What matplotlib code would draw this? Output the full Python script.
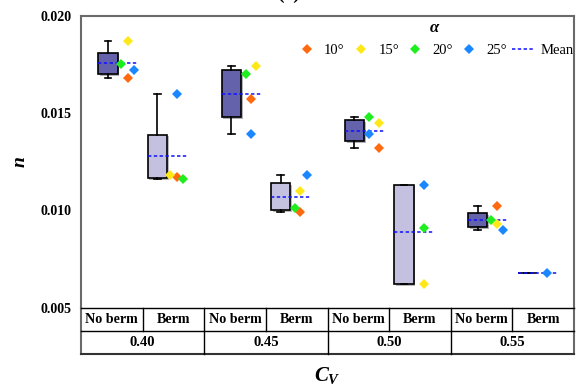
import numpy as np
import matplotlib
matplotlib.use("Agg")
import matplotlib.pyplot as plt
from matplotlib.lines import Line2D
import matplotlib.patheffects as pe

plt.rcParams['font.family'] = ['Liberation Serif', 'DejaVu Serif']
plt.rcParams['mathtext.fontset'] = 'custom'
plt.rcParams['mathtext.it'] = 'Liberation Serif:italic:bold'
plt.rcParams['mathtext.rm'] = 'Liberation Serif:bold'

# ---------------- data ----------------
cv_labels = ['0.40', '0.45', '0.50', '0.55']
berm_labels = ['No berm', 'Berm']
angle_labels = ['10°', '15°', '20°', '25°']
nan = np.nan
# order: 0.40 No berm, 0.40 Berm, 0.45 No berm, 0.45 Berm, ...
n_10 = [0.01681, 0.01172, 0.01571, 0.00992, 0.01320, nan, 0.01021, nan]
n_15 = [0.01870, 0.01180, 0.01741, 0.01101, 0.01450, 0.00621, 0.00930, nan]
n_20 = [0.01752, 0.01161, 0.01702, 0.01011, 0.01482, 0.00911, 0.00951, nan]
n_25 = [0.01721, 0.01600, 0.01391, 0.01182, 0.01391, 0.01132, 0.00901, 0.00681]
y_ticks = [0.005, 0.010, 0.015, 0.020]

# ---------------- layout / style ----------------
angle_colors = ['#FF6A10', '#FFE81A', '#1EEE1E', '#1A86FF']
box_colors = ['#6462AA', '#C3C1DF']
# horizontal placement of scatter points relative to box centre (x-units)
pt_offsets = [
    [0.32, 0.32, 0.216, 0.422],
    [0.324, 0.21, 0.42, 0.316],
    [0.32, 0.396, 0.243, 0.32],
    [0.32, 0.32, 0.224, 0.425],
    [0.394, 0.394, 0.243, 0.243],
    [0.323, 0.323, 0.323, 0.323],
    [0.313, 0.313, 0.216, 0.417],
    [0.32, 0.32, 0.32, 0.32],
]
box_w = 0.313
series_shift = [0.438, 1.241]


def hinge_stats(vals):
    v = np.sort(np.array([x for x in vals if not np.isnan(x)]))
    n = len(v)
    half = n // 2
    if n == 1:
        lo = hi = v
    else:
        lo, hi = v[:half], v[n - half:]
    return dict(med=np.median(v), q1=np.median(lo), q3=np.median(hi),
                whislo=v.min(), whishi=v.max(), mean=v.mean(), fliers=[])


series = [n_10, n_15, n_20, n_25]
groups = [[s[g] for s in series] for g in range(8)]
stats = [hinge_stats(g) for g in groups]
positions = [2 * (g // 2) + series_shift[g % 2] for g in range(8)]

fig = plt.figure(figsize=(5.84, 3.92), dpi=100)
ax = fig.add_axes([81 / 584, (392 - 307.7) / 392, 493 / 584, (307.7 - 16) / 392])
ax.set_xlim(0, 8)
ax.set_ylim(0.005, 0.020)

bp = ax.bxp(stats, positions=positions, widths=box_w, patch_artist=True,
            showfliers=False, showmeans=False, capwidths=0.11,
            boxprops=dict(edgecolor='black', linewidth=1.2),
            whiskerprops=dict(color='black', linewidth=1.2),
            capprops=dict(color='black', linewidth=1.2),
            medianprops=dict(linewidth=0))
for i, b in enumerate(bp['boxes']):
    b.set_facecolor(box_colors[i % 2])
    b.set_path_effects([pe.SimplePatchShadow(offset=(1.2, -1.2), alpha=0.35),
                        pe.Normal()])

# mean lines
for i, st in enumerate(stats):
    left = positions[i] - box_w / 2
    ax.hlines(st['mean'], left, left + 0.635, colors='#1010FF',
              linestyles=(0, (2.2, 1.6)), linewidth=1.1, zorder=3)

# scatter points
for k in range(4):
    xs = [positions[g] + pt_offsets[g][k] for g in range(8)]
    ax.plot(xs, series[k], linestyle='none', marker='D', markersize=4.6,
            markeredgewidth=0, color=angle_colors[k], zorder=4)

# axes styling
ax.set_yticks(y_ticks)
ax.set_yticklabels([f'{t:.3f}' for t in y_ticks], fontweight='bold', fontsize=10)
ax.tick_params(axis='y', length=0, pad=7)
ax.set_xticks([])
for s in ['left', 'right', 'top']:
    ax.spines[s].set_color('#6a6a6a')
    ax.spines[s].set_linewidth(1.5)
ax.spines['bottom'].set_color('black')
ax.spines['bottom'].set_linewidth(1.0)

# table under the axes
row_h = 23.3 / 291.7
tk = dict(transform=ax.transAxes, clip_on=False)
for xx in [0.0, 1.0]:
    ax.add_line(Line2D([xx, xx], [0, -2 * row_h], color='#6a6a6a', lw=1.5, **tk))
ax.add_line(Line2D([0, 1], [-row_h, -row_h], color='black', lw=1.0, **tk))
ax.add_line(Line2D([0, 1], [-2 * row_h, -2 * row_h], color='#333333', lw=1.5, **tk))
for j in range(1, 8):
    ylo = -2 * row_h if j % 2 == 0 else -row_h
    ax.add_line(Line2D([j / 8, j / 8], [0, ylo], color='black', lw=1.0, **tk))
for j in range(8):
    ax.text((j + 0.5) / 8, -row_h / 2, berm_labels[j % 2], ha='center',
            va='center', fontweight='bold', fontsize=10.2, transform=ax.transAxes)
for c in range(4):
    ax.text((c + 0.5) / 4, -1.5 * row_h, cv_labels[c], ha='center',
            va='center', fontweight='bold', fontsize=10.5, transform=ax.transAxes)

# axis labels
fig.text(20 / 584, 1 - 162 / 392, 'n', fontsize=14, fontweight='bold',
         fontstyle='italic', ha='center', va='center', rotation=90)
fig.text(327.5 / 584, 1 - 375 / 392, r'$C_V$', fontsize=15,
         ha='center', va='center')
fig.text(288.5 / 584, 1 + 1.5 / 392, '(a)', fontsize=14, fontweight='bold',
         ha='center', va='baseline')

# legend
handles = [Line2D([], [], linestyle='none', marker='D', markersize=4.6,
                  markeredgewidth=0, color=angle_colors[k]) for k in range(4)]
handles.append(Line2D([], [], color='#1010FF', linestyle=(0, (2.2, 1.6)), lw=1.1))
labels = angle_labels + ['Mean']
leg = ax.legend(handles, labels, ncol=5, loc='upper right',
                bbox_to_anchor=(1.0, 0.985), frameon=False, fontsize=10.5,
                handlelength=1.5, handletextpad=0.45, columnspacing=0.35,
                borderpad=0, borderaxespad=0,
                title='α', title_fontproperties=dict(family='Liberation Serif',
                                                     weight='bold', style='italic',
                                                     size=12))

fig.savefig('out.png', dpi=100)
